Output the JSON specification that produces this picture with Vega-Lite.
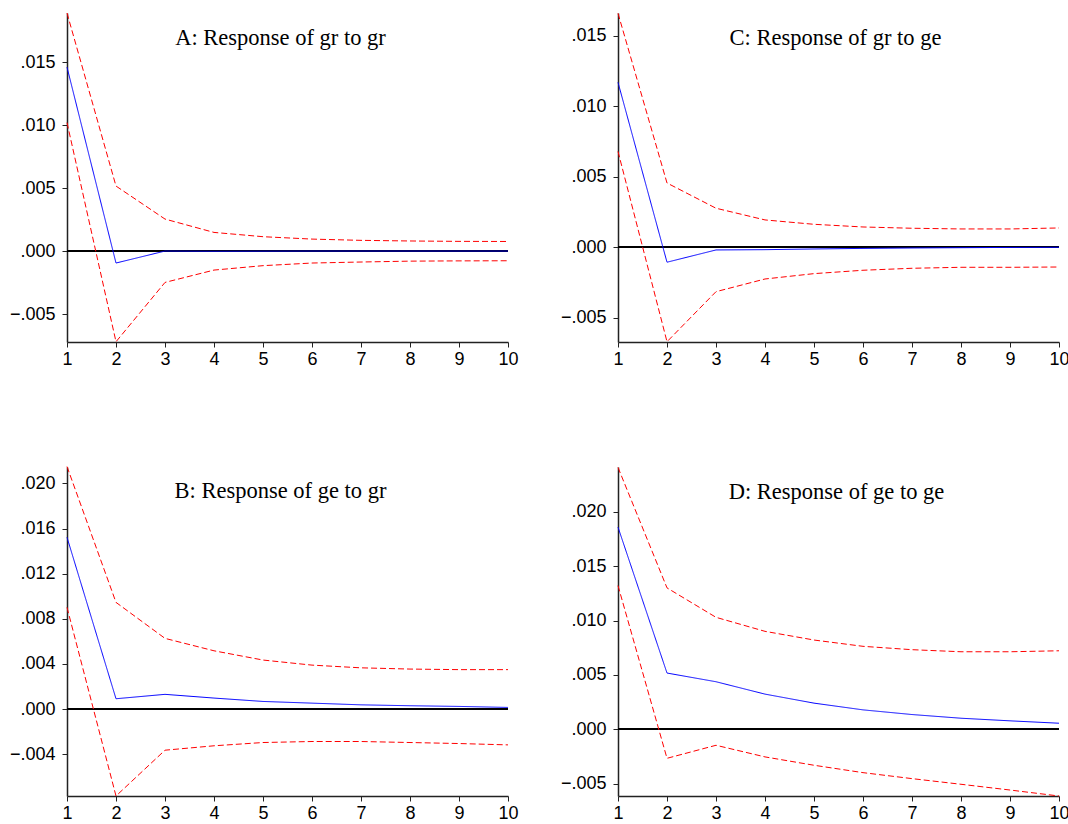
{
  "$schema": "https://vega.github.io/schema/vega-lite/v6.json",
  "background": "white",
  "padding": {"left": 9, "top": 11, "right": 0, "bottom": 0},
  "datasets": {
    "irf": [
      {"p": "A", "h": 1, "resp": 0.0146, "lo": 0.0102, "hi": 0.0189},
      {"p": "A", "h": 2, "resp": -0.00095, "lo": -0.0072, "hi": 0.00516},
      {"p": "A", "h": 3, "resp": 0.0, "lo": -0.00249, "hi": 0.00254},
      {"p": "A", "h": 4, "resp": -0.00002, "lo": -0.00151, "hi": 0.00148},
      {"p": "A", "h": 5, "resp": -0.00001, "lo": -0.00116, "hi": 0.00114},
      {"p": "A", "h": 6, "resp": 0.0, "lo": -0.00095, "hi": 0.00095},
      {"p": "A", "h": 7, "resp": 0.0, "lo": -0.00087, "hi": 0.00085},
      {"p": "A", "h": 8, "resp": 0.0, "lo": -0.0008, "hi": 0.0008},
      {"p": "A", "h": 9, "resp": 0.0, "lo": -0.00078, "hi": 0.00077},
      {"p": "A", "h": 10, "resp": 0.0, "lo": -0.00077, "hi": 0.00076},
      {"p": "C", "h": 1, "resp": 0.0117, "lo": 0.0068, "hi": 0.0166},
      {"p": "C", "h": 2, "resp": -0.00106, "lo": -0.0067, "hi": 0.00456},
      {"p": "C", "h": 3, "resp": -0.00019, "lo": -0.00315, "hi": 0.00277},
      {"p": "C", "h": 4, "resp": -0.00017, "lo": -0.00225, "hi": 0.00194},
      {"p": "C", "h": 5, "resp": -0.00012, "lo": -0.00187, "hi": 0.00163},
      {"p": "C", "h": 6, "resp": -0.00008, "lo": -0.00163, "hi": 0.00144},
      {"p": "C", "h": 7, "resp": -0.00005, "lo": -0.00149, "hi": 0.00135},
      {"p": "C", "h": 8, "resp": -0.00003, "lo": -0.00142, "hi": 0.0013},
      {"p": "C", "h": 9, "resp": -0.00001, "lo": -0.00142, "hi": 0.0013},
      {"p": "C", "h": 10, "resp": 0.0, "lo": -0.0014, "hi": 0.00137},
      {"p": "B", "h": 1, "resp": 0.01523, "lo": 0.00902, "hi": 0.0215},
      {"p": "B", "h": 2, "resp": 0.00092, "lo": -0.0077, "hi": 0.00946},
      {"p": "B", "h": 3, "resp": 0.00131, "lo": -0.00364, "hi": 0.00627},
      {"p": "B", "h": 4, "resp": 0.00098, "lo": -0.00325, "hi": 0.00517},
      {"p": "B", "h": 5, "resp": 0.00068, "lo": -0.00296, "hi": 0.00435},
      {"p": "B", "h": 6, "resp": 0.00053, "lo": -0.00287, "hi": 0.0039},
      {"p": "B", "h": 7, "resp": 0.00038, "lo": -0.00287, "hi": 0.00366},
      {"p": "B", "h": 8, "resp": 0.0003, "lo": -0.00296, "hi": 0.00355},
      {"p": "B", "h": 9, "resp": 0.00024, "lo": -0.00305, "hi": 0.0035},
      {"p": "B", "h": 10, "resp": 0.00015, "lo": -0.00317, "hi": 0.0035},
      {"p": "D", "h": 1, "resp": 0.0186, "lo": 0.01322, "hi": 0.0241},
      {"p": "D", "h": 2, "resp": 0.00517, "lo": -0.00268, "hi": 0.01301},
      {"p": "D", "h": 3, "resp": 0.00437, "lo": -0.00148, "hi": 0.0103},
      {"p": "D", "h": 4, "resp": 0.00323, "lo": -0.00255, "hi": 0.00901},
      {"p": "D", "h": 5, "resp": 0.0024, "lo": -0.00332, "hi": 0.00821},
      {"p": "D", "h": 6, "resp": 0.00178, "lo": -0.004, "hi": 0.00763},
      {"p": "D", "h": 7, "resp": 0.00135, "lo": -0.00455, "hi": 0.00732},
      {"p": "D", "h": 8, "resp": 0.00101, "lo": -0.00507, "hi": 0.00713},
      {"p": "D", "h": 9, "resp": 0.00077, "lo": -0.0056, "hi": 0.00713},
      {"p": "D", "h": 10, "resp": 0.00055, "lo": -0.00615, "hi": 0.00722}
    ]
  },
  "columns": 2,
  "spacing": {"row": 96, "column": 41},
  "resolve": {"scale": {"x": "independent", "y": "independent"}},
  "concat": [
    {
      "width": 441, "height": 329,
      "data": {"name": "irf"},
      "title": {"text": "A: Response of gr to gr", "dx": -7},
      "transform": [{"filter": "datum.p === 'A'"}, {"fold": ["hi", "lo", "resp"], "as": ["s", "v"]}],
      "layer": [
        {"mark": {"type": "rule", "color": "black", "strokeWidth": 1}, "encoding": {"y": {"datum": 0, "type": "quantitative"}}},
        {"mark": {"type": "line", "strokeWidth": 1},
         "encoding": {
           "x": {"field": "h", "type": "quantitative", "scale": {"domain": [1, 10], "nice": false, "zero": false}, "axis": {"values": [1,2,3,4,5,6,7,8,9,10], "format": "d"}, "title": null},
           "y": {"field": "v", "type": "quantitative", "scale": {"domain": [-0.00722, 0.0189], "nice": false, "zero": false}, "axis": {"values": [-0.005, 0, 0.005, 0.01, 0.015]}, "title": null},
           "detail": {"field": "s"},
           "color": {"field": "s", "type": "nominal", "scale": {"domain": ["resp", "lo", "hi"], "range": ["#0000FF", "#FF0000", "#FF0000"]}, "legend": null},
           "strokeDash": {"field": "s", "type": "nominal", "scale": {"domain": ["resp", "lo", "hi"], "range": [[1, 0], [6, 3], [6, 3]]}, "legend": null}
         }}
      ]
    },
    {
      "width": 441, "height": 329,
      "data": {"name": "irf"},
      "title": {"text": "C: Response of gr to ge", "dx": -3},
      "transform": [{"filter": "datum.p === 'C'"}, {"fold": ["hi", "lo", "resp"], "as": ["s", "v"]}],
      "layer": [
        {"mark": {"type": "rule", "color": "black", "strokeWidth": 1}, "encoding": {"y": {"datum": 0, "type": "quantitative"}}},
        {"mark": {"type": "line", "strokeWidth": 1},
         "encoding": {
           "x": {"field": "h", "type": "quantitative", "scale": {"domain": [1, 10], "nice": false, "zero": false}, "axis": {"values": [1,2,3,4,5,6,7,8,9,10], "format": "d"}, "title": null},
           "y": {"field": "v", "type": "quantitative", "scale": {"domain": [-0.00672, 0.01662], "nice": false, "zero": false}, "axis": {"values": [-0.005, 0, 0.005, 0.01, 0.015]}, "title": null},
           "detail": {"field": "s"},
           "color": {"field": "s", "type": "nominal", "scale": {"domain": ["resp", "lo", "hi"], "range": ["#0000FF", "#FF0000", "#FF0000"]}, "legend": null},
           "strokeDash": {"field": "s", "type": "nominal", "scale": {"domain": ["resp", "lo", "hi"], "range": [[1, 0], [6, 3], [6, 3]]}, "legend": null}
         }}
      ]
    },
    {
      "width": 441, "height": 329,
      "data": {"name": "irf"},
      "title": {"text": "B: Response of ge to gr", "dx": -7},
      "transform": [{"filter": "datum.p === 'B'"}, {"fold": ["hi", "lo", "resp"], "as": ["s", "v"]}],
      "layer": [
        {"mark": {"type": "rule", "color": "black", "strokeWidth": 1}, "encoding": {"y": {"datum": 0, "type": "quantitative"}}},
        {"mark": {"type": "line", "strokeWidth": 1},
         "encoding": {
           "x": {"field": "h", "type": "quantitative", "scale": {"domain": [1, 10], "nice": false, "zero": false}, "axis": {"values": [1,2,3,4,5,6,7,8,9,10], "format": "d"}, "title": null},
           "y": {"field": "v", "type": "quantitative", "scale": {"domain": [-0.0077, 0.02146], "nice": false, "zero": false}, "axis": {"values": [-0.004, 0, 0.004, 0.008, 0.012, 0.016, 0.02]}, "title": null},
           "detail": {"field": "s"},
           "color": {"field": "s", "type": "nominal", "scale": {"domain": ["resp", "lo", "hi"], "range": ["#0000FF", "#FF0000", "#FF0000"]}, "legend": null},
           "strokeDash": {"field": "s", "type": "nominal", "scale": {"domain": ["resp", "lo", "hi"], "range": [[1, 0], [6, 3], [6, 3]]}, "legend": null}
         }}
      ]
    },
    {
      "width": 441, "height": 329,
      "data": {"name": "irf"},
      "title": {"text": "D: Response of ge to ge", "dx": -2},
      "transform": [{"filter": "datum.p === 'D'"}, {"fold": ["hi", "lo", "resp"], "as": ["s", "v"]}],
      "layer": [
        {"mark": {"type": "rule", "color": "black", "strokeWidth": 1}, "encoding": {"y": {"datum": 0, "type": "quantitative"}}},
        {"mark": {"type": "line", "strokeWidth": 1},
         "encoding": {
           "x": {"field": "h", "type": "quantitative", "scale": {"domain": [1, 10], "nice": false, "zero": false}, "axis": {"values": [1,2,3,4,5,6,7,8,9,10], "format": "d"}, "title": null},
           "y": {"field": "v", "type": "quantitative", "scale": {"domain": [-0.00615, 0.02414], "nice": false, "zero": false}, "axis": {"values": [-0.005, 0, 0.005, 0.01, 0.015, 0.02]}, "title": null},
           "detail": {"field": "s"},
           "color": {"field": "s", "type": "nominal", "scale": {"domain": ["resp", "lo", "hi"], "range": ["#0000FF", "#FF0000", "#FF0000"]}, "legend": null},
           "strokeDash": {"field": "s", "type": "nominal", "scale": {"domain": ["resp", "lo", "hi"], "range": [[1, 0], [6, 3], [6, 3]]}, "legend": null}
         }}
      ]
    }
  ],
  "config": {
    "view": {"stroke": null},
    "title": {"font": "Liberation Serif", "fontSize": 22.5, "fontWeight": "normal", "color": "black", "anchor": "middle", "frame": "group", "offset": 0, "baseline": "alphabetic", "dy": 42},
    "axis": {"grid": false, "domainColor": "#222", "domainWidth": 1.5, "tickColor": "#222", "tickWidth": 1, "tickSize": 5, "labelColor": "black", "labelFont": "Liberation Sans", "labelFontSize": 18, "labelOverlap": false, "labelFlush": false},
    "axisX": {"labelPadding": 3},
    "axisY": {"labelPadding": 7, "labelExpr": "replace(format(datum.value, '.3f'), '0.', '.')"}
  }
}
